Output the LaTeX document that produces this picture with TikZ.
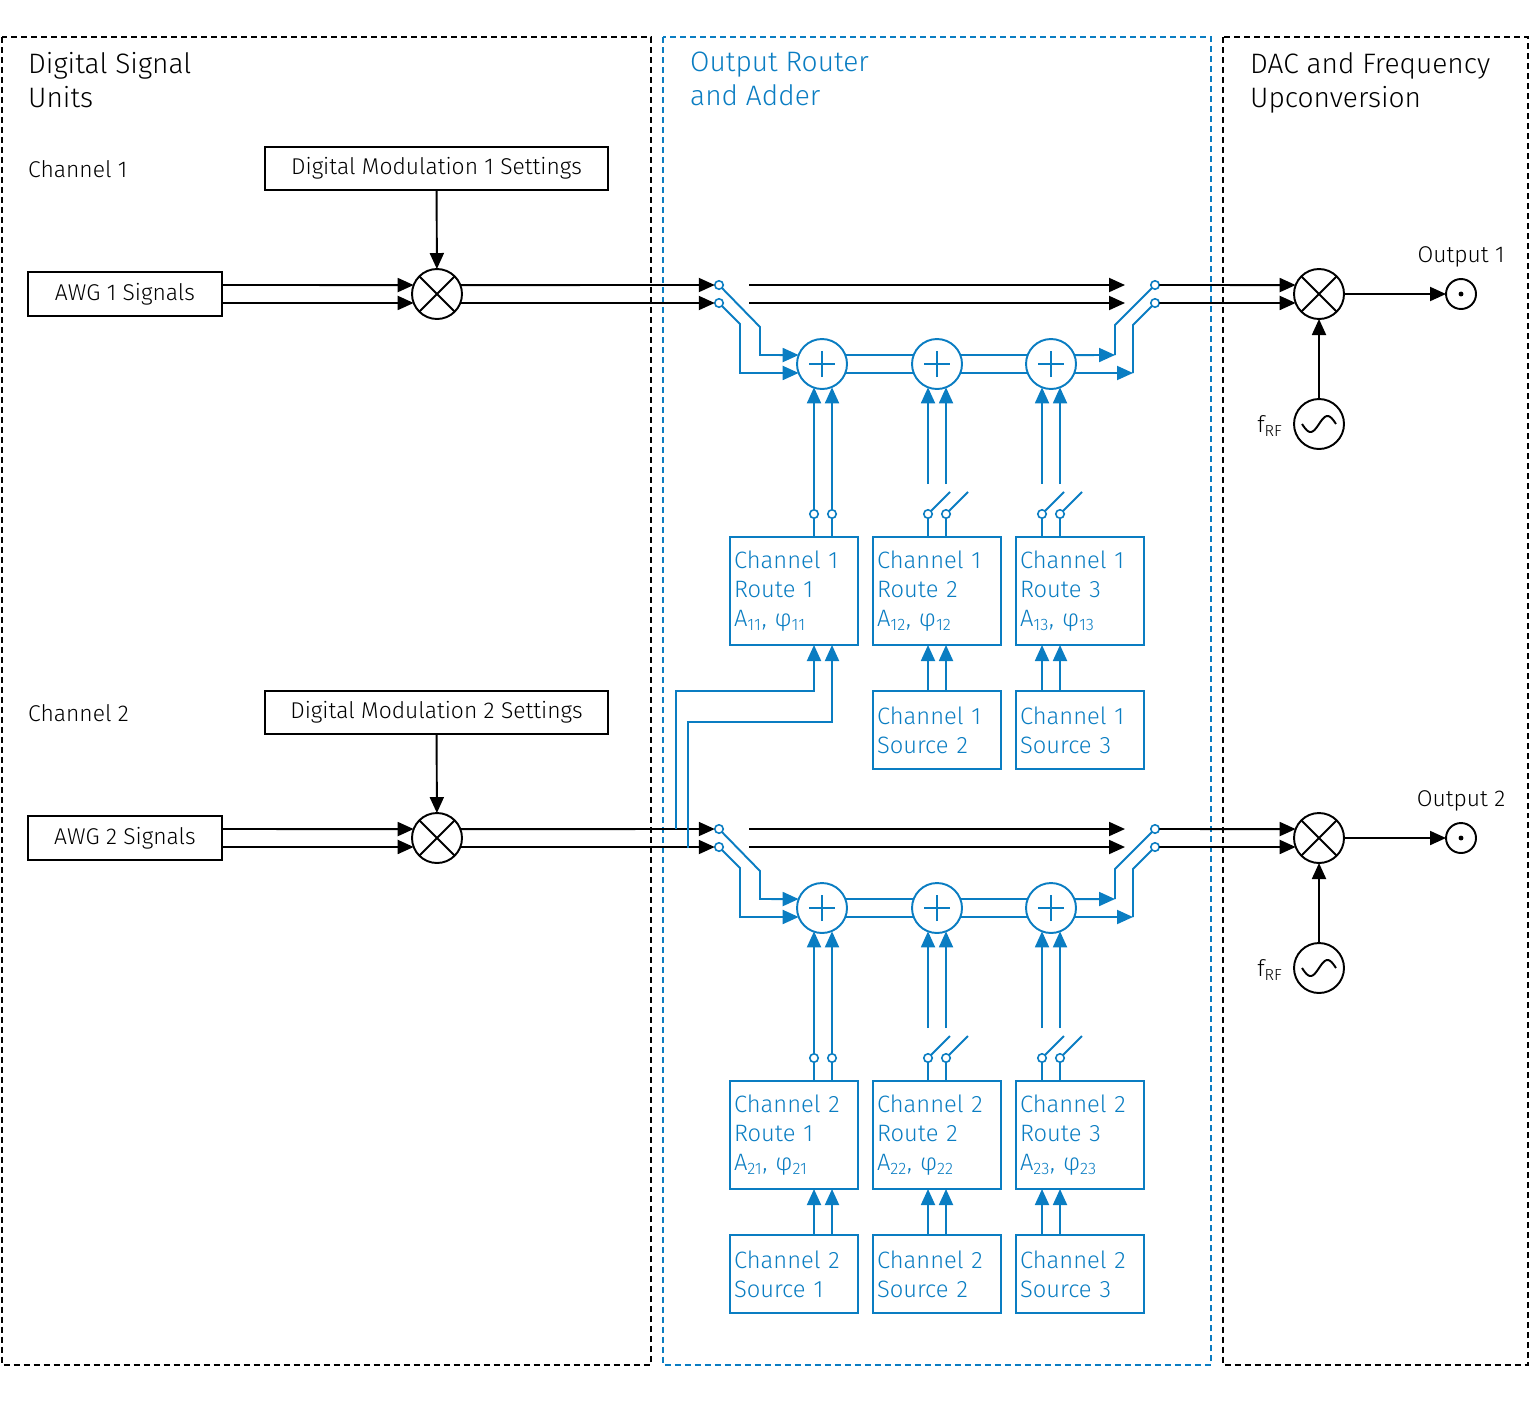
\documentclass[tikz,border=0pt]{standalone}
\usepackage{fontspec}
\setmainfont{Fira Sans}[UprightFont=* Light]
\usetikzlibrary{arrows.meta,positioning}
\definecolor{zblue}{HTML}{0A7DC2}
\tikzset{
  ln/.style={line width=1.1pt},
  arr/.style={ln, -{Triangle[length=0.32cm,width=0.28cm]}},
  bln/.style={ln, zblue},
  barr/.style={arr, zblue},
  box/.style={draw, ln, rectangle, inner sep=0pt, outer sep=0pt, font=\fontsize{13}{15}\selectfont},
  rbox/.style={box, draw=zblue, text=zblue, align=left, text width=2.4cm, minimum width=2.56cm, inner xsep=0.08cm, font=\fontsize{13.5}{16.5}\selectfont},
  mix/.style={draw, ln, circle, minimum size=1cm, inner sep=0pt, outer sep=0pt, fill=white},
  badd/.style={mix, draw=zblue},
  cont/.style={draw=zblue, line width=0.9pt, circle, minimum size=0.17cm, inner sep=0pt, outer sep=0pt, fill=white},
  sect/.style={line width=0.8pt, dash pattern=on 0.12cm off 0.08cm},
  ttl/.style={anchor=north west, align=left, font=\fontsize{16}{19.3}\selectfont},
  lbl/.style={font=\fontsize{13}{15}\selectfont}
}
\begin{document}
\begin{tikzpicture}[x=0.02cm,y=-0.02cm]
  \useasboundingbox (0,0) rectangle (1530,1404);

  % sections
  \draw[sect] (2,37) rectangle (651,1365);
  \draw[sect, zblue] (663,37) rectangle (1211,1365);
  \draw[sect] (1223,37) rectangle (1528,1365);
  \node[ttl] (tdsu) at (22,46) {Digital Signal\\Units};
  \node[ttl, text=zblue] (trouter) at (684,46) {Output Router\\and Adder};
  \node[ttl] (tdac) at (1244,46) {DAC and Frequency\\Upconversion};

  \foreach \c/\dy in {1/0,2/544}{
    % digital signal units
    \node[lbl, anchor=west] (ch\c) at (22,{169+\dy}) {Channel \c};
    \node[box, minimum width=6.86cm, minimum height=0.86cm] (set\c) at (436.5,{168.5+\dy}) {Digital Modulation \c\ Settings};
    \node[box, minimum width=3.88cm, minimum height=0.88cm] (awg\c) at (125,{294+\dy}) {AWG \c\ Signals};
    \node[mix] (m\c) at (437,{294+\dy}) {};
    \draw[ln] (m\c.45) -- (m\c.225) (m\c.135) -- (m\c.315);
    \draw[arr] (set\c) -- (m\c);
    \draw[arr] ([yshift=0.18cm]awg\c.east) -- (m\c.159);
    \draw[arr] ([yshift=-0.18cm]awg\c.east) -- (m\c.201);

    % input switch
    \node[cont] (sa\c) at (719,{285+\dy}) {};
    \node[cont] (sb\c) at (719,{303+\dy}) {};
    \draw[arr] (m\c.21) -- (sa\c);
    \draw[arr] (m\c.-21) -- (sb\c);
    \coordinate (ba\c) at (749,{285+\dy});
    \coordinate (bb\c) at (749,{303+\dy});
    \coordinate (ea\c) at (1125,{285+\dy});
    \coordinate (eb\c) at (1125,{303+\dy});
    \draw[arr] (ba\c) -- (ea\c);
    \draw[arr] (bb\c) -- (eb\c);

    % adders
    \foreach \k/\xp in {1/822,2/937,3/1051}{
      \node[badd] (p\c\k) at (\xp,{364+\dy}) {};
      \draw[bln] ([xshift=-0.26cm]p\c\k.center) -- ([xshift=0.26cm]p\c\k.center)
                 ([yshift=-0.26cm]p\c\k.center) -- ([yshift=0.26cm]p\c\k.center);
    }
    \draw[barr] (sa\c) -- (760,{327+\dy}) -- (760,{355+\dy}) -- (p\c1.159);
    \draw[barr] (sb\c) -- (740,{324+\dy}) -- (740,{373+\dy}) -- (p\c1.201);
    \draw[bln] (p\c1.21) -- (p\c2.159) (p\c1.-21) -- (p\c2.201);
    \draw[bln] (p\c2.21) -- (p\c3.159) (p\c2.-21) -- (p\c3.201);

    % output switch
    \node[cont] (ra\c) at (1155,{285+\dy}) {};
    \node[cont] (rb\c) at (1155,{303+\dy}) {};
    \coordinate (qa\c) at (1115,{355+\dy});
    \coordinate (qb\c) at (1133,{373+\dy});
    \draw[barr] (p\c3.21) -- (qa\c);
    \draw[barr] (p\c3.-21) -- (qb\c);
    \draw[bln] (qa\c) -- (1115,{325+\dy}) -- (ra\c);
    \draw[bln] (qb\c) -- (1133,{325+\dy}) -- (rb\c);

    % upconversion
    \node[mix] (x\c) at (1319,{294+\dy}) {};
    \draw[ln] (x\c.45) -- (x\c.225) (x\c.135) -- (x\c.315);
    \draw[arr] (ra\c) -- (x\c.159);
    \draw[arr] (rb\c) -- (x\c.201);
    \node[draw, ln, circle, minimum size=0.6cm, inner sep=0pt, outer sep=0pt] (o\c) at (1461,{294+\dy}) {};
    \fill (o\c) circle (1.4pt);
    \draw[arr] (x\c) -- (o\c);
    \node[lbl] (ol\c) at (1461,{257+\dy}) {Output \c};
    \node[mix] (osc\c) at (1319,{424+\dy}) {};
    \draw[ln, shift={(osc\c.center)}, x=1cm, y=1cm] plot[domain=-0.34:0.34, samples=40, smooth] (\x, {0.16*sin(\x*180/0.34)});
    \draw[arr] (osc\c) -- (x\c);
    \node[lbl] (frf\c) at (1270,{426+\dy}) {f\textsubscript{RF}};

    % routes
    \foreach \k/\xb in {1/794,2/937,3/1080}{
      \node[rbox, minimum height=2.16cm] (r\c\k) at (\xb,{591+\dy}) {Channel \c\\Route \k\\A\textsubscript{\c\k}, φ\textsubscript{\c\k}};
    }
    \foreach \k/\xl/\xr in {1/814/832,2/928/946,3/1042/1060}{
      \node[cont] (kl\c\k) at (\xl,{514+\dy}) {};
      \node[cont] (kr\c\k) at (\xr,{514+\dy}) {};
      \draw[bln] (r\c\k.north -| kl\c\k) -- (kl\c\k);
      \draw[bln] (r\c\k.north -| kr\c\k) -- (kr\c\k);
    }
    \draw[barr] (kl\c1) -- (p\c1.249 -| kl\c1);
    \draw[barr] (kr\c1) -- (p\c1.291 -| kr\c1);
    \foreach \k in {2,3}{
      \draw[bln] (kl\c\k) -- ++(22,-22) (kr\c\k) -- ++(22,-22);
      \draw[barr] (kl\c\k) ++(0,-30) -- (p\c\k.249 -| kl\c\k);
      \draw[barr] (kr\c\k) ++(0,-30) -- (p\c\k.291 -| kr\c\k);
    }
  }

  % sources
  \foreach \c/\dy/\ks in {1/0/{2,3},2/544/{1,2,3}}{
    \foreach \k/\xb/\xl/\xr in {1/794/814/832,2/937/928/946,3/1080/1042/1060}{
      \foreach \j in \ks{
        \ifnum\j=\k
          \node[rbox, minimum height=1.56cm] (src\c\k) at (\xb,{730+\dy+0}) {Channel \c\\Source \k};
          \draw[barr] (src\c\k.north -| \xl,0) -- (r\c\k.south -| \xl,0);
          \draw[barr] (src\c\k.north -| \xr,0) -- (r\c\k.south -| \xr,0);
        \fi
      }
    }
  }

  % channel 2 signals feed channel 1 route 1
  \coordinate (t1) at (676,829);
  \coordinate (t2) at (688,848);
  \coordinate (f1) at (814,691);
  \coordinate (f2) at (832,722);
  \draw[barr] (t1) |- (f1) -- (f1 |- r11.south);
  \draw[barr] (t2) |- (f2) -- (f2 |- r11.south);
\end{tikzpicture}
\end{document}
